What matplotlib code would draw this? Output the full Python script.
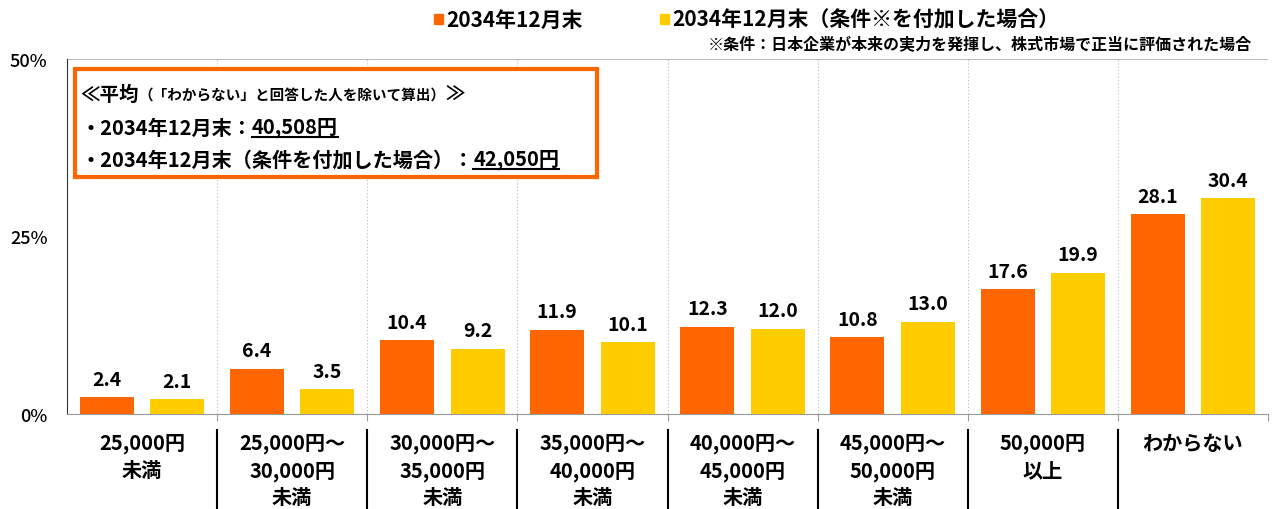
import matplotlib
matplotlib.use("Agg")
import matplotlib.pyplot as plt
from matplotlib.patches import Rectangle
from matplotlib.lines import Line2D
import numpy as np

plt.rcParams['font.family'] = ['Noto Sans CJK JP', 'DejaVu Sans']

# data
categories = ["25,000円\n未満", "25,000円～\n30,000円\n未満", "30,000円～\n35,000円\n未満",
              "35,000円～\n40,000円\n未満", "40,000円～\n45,000円\n未満", "45,000円～\n50,000円\n未満",
              "50,000円\n以上", "わからない"]
plain = [2.4, 6.4, 10.4, 11.9, 12.3, 10.8, 17.6, 28.1]
with_cond = [2.1, 3.5, 9.2, 10.1, 12.0, 13.0, 19.9, 30.4]
series_names = ["2034年12月末", "2034年12月末（条件※を付加した場合）"]
note = "※条件：日本企業が本来の実力を発揮し、株式市場で正当に評価された場合"
avg_plain = "40,508円"
avg_cond = "42,050円"

ORANGE = "#FF6600"
YELLOW = "#FFCC00"

fig = plt.figure(figsize=(12.72, 5.10), dpi=100)
ax = fig.add_axes([67/1272, 1 - 415/510, (1268 - 67)/1272, (415 - 60)/510])

x = np.arange(len(categories))
w = 0.36
b1 = ax.bar(x - 0.235, plain, w, color=ORANGE, zorder=3)
b2 = ax.bar(x + 0.235, with_cond, w, color=YELLOW, zorder=3)

for bars, vals in ((b1, plain), (b2, with_cond)):
    for r, v in zip(bars, vals):
        ax.annotate(f"{v:.1f}", (r.get_x() + r.get_width()/2, v), xytext=(0, 6),
                    textcoords="offset points", ha="center", va="bottom",
                    fontsize=14, fontweight="bold")

ax.set_xlim(-0.5, len(categories) - 0.5)
ax.set_ylim(0, 50)
ax.set_yticks([0, 25, 50])
ax.set_yticklabels(["0%", "25%", "50%"], fontsize=13, fontweight="medium")
ax.tick_params(axis="y", length=0, pad=14)

# boundaries between groups
bounds = np.arange(0.5, len(categories) - 0.5, 1.0)
for bx in bounds:
    ax.axvline(bx, color="#bbbbbb", lw=0.8, ls=(0, (1, 2)), zorder=1)
ax.set_xticks(np.append(bounds, len(categories) - 0.5))
ax.set_xticklabels([])
ax.tick_params(axis="x", length=5, color="#999999")
ax.axhline(50, color="#bbbbbb", lw=1.5, zorder=1)

for s in ["top", "right"]:
    ax.spines[s].set_visible(False)
ax.spines["bottom"].set_color("#999999")
ax.spines["left"].set_color("#333333")

# category labels and separators below axis
for i, c in enumerate(categories):
    ax.text(i, -2.6, c, ha="center", va="top", fontsize=14.5, fontweight="bold",
            linespacing=1.33, transform=ax.transData, clip_on=False)
for bx in bounds:
    ax.add_line(Line2D([bx, bx], [-2.2, -14], color="black", lw=1.5, clip_on=False))

# legend
fig.patches.append(Rectangle((434/1272, 1 - 25/510), 9/1272, 10/510, color=ORANGE,
                             transform=fig.transFigure))
fig.text(446/1272, 1 - 20/510, series_names[0], fontsize=15, fontweight="bold", va="center")
fig.patches.append(Rectangle((660/1272, 1 - 25/510), 9/1272, 10/510, color=YELLOW,
                             transform=fig.transFigure))
fig.text(672/1272, 1 - 20/510, series_names[1], fontsize=15, fontweight="bold", va="center")
fig.text(1252/1272, 1 - 44/510, note, fontsize=11.5, fontweight="bold", va="center", ha="right")

# average box
fig.patches.append(Rectangle((75/1272, 1 - 178/510), (597 - 75)/1272, (178 - 70)/510,
                             fill=False, ec=ORANGE, lw=3, transform=fig.transFigure, zorder=5))
fig.patches.append(Rectangle((75/1272, 1 - 178/510), (597 - 75)/1272, (178 - 70)/510,
                             fc="white", ec="none", transform=fig.transFigure, zorder=4))

fig.canvas.draw()
r = fig.canvas.get_renderer()

def put(xpx, ypx, s, size, underline=False):
    t = fig.text(xpx/1272, 1 - ypx/510, s, fontsize=size, fontweight="bold", va="center", zorder=6)
    bb = t.get_window_extent(renderer=r)
    if underline:
        fig.add_artist(Line2D([bb.x0/1272, bb.x1/1272], [(bb.y0 + 1)/510, (bb.y0 + 1)/510],
                              color="black", lw=1.5, transform=fig.transFigure, zorder=6))
    return bb.x1

xe = put(80, 95, "≪平均", 14)
xe = put(xe, 96, "（「わからない」と回答した人を除いて算出）", 10.5)
put(xe, 95, "≫", 14)
xe = put(80, 128, "・" + series_names[0] + "：", 14.5)
put(xe, 128, avg_plain, 14.5, underline=True)
xe = put(80, 160, "・2034年12月末（条件を付加した場合）：", 14.5)
put(xe, 160, avg_cond, 14.5, underline=True)

fig.savefig("out.png", dpi=100)
